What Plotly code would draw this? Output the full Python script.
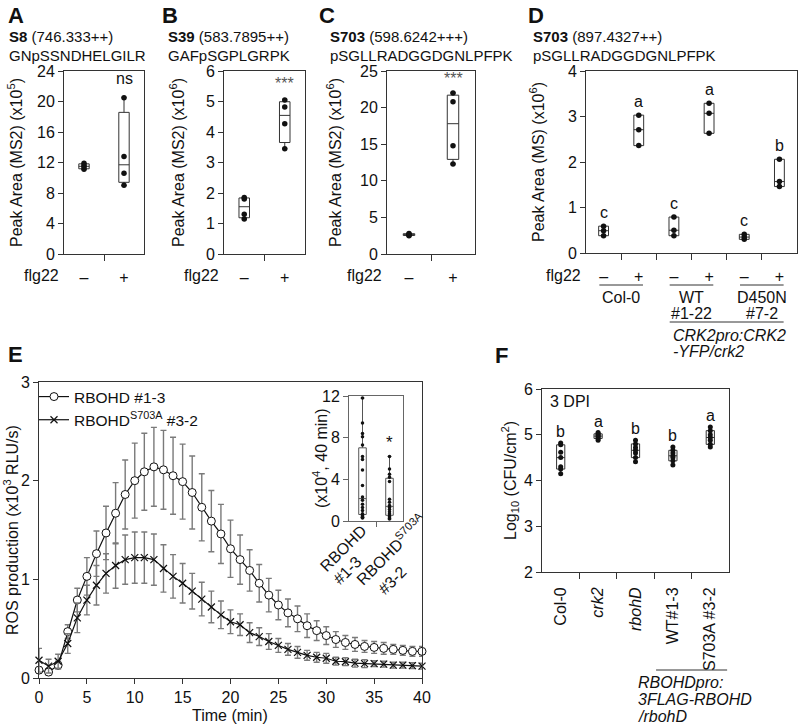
import numpy as np
import plotly.graph_objects as go

# ---------------- DATA ----------------
flg_labels = ["–", "+"]

# Panel A  S8, Peak Area (x10^5)
a_minus = [11.1, 11.4, 11.6, 11.9]
a_plus = [9.0, 10.6, 12.8, 20.5]
# Panel B  S39, Peak Area (x10^6)
b_minus = [1.15, 1.30, 1.80, 1.85]
b_plus = [3.45, 4.27, 4.82, 5.05]
# Panel C  S703, Peak Area (x10^6)
c_minus = [2.5, 2.6, 2.7, 2.8]
c_plus = [12.3, 14.8, 20.8, 22.0]

# Panel D  S703 (897.4327++), Peak Area (MS) (x10^6)
d_flg = ["–", "+", "–", "+", "–", "+"]
d_values = [
    [0.38, 0.49, 0.59],
    [2.36, 2.71, 3.03],
    [0.38, 0.50, 0.79],
    [2.63, 3.07, 3.29],
    [0.30, 0.35, 0.41],
    [1.46, 1.57, 2.06],
]
d_letters = ["c", "a", "c", "a", "c", "b"]

# Panel E  ROS production (x10^3 RLU/s)
time_min = [0, 1, 2, 3, 4, 5, 6, 7, 8, 9, 10, 11, 12, 13, 14, 15, 16, 17, 18, 19, 20,
            21, 22, 23, 24, 25, 26, 27, 28, 29, 30, 31, 32, 33, 34, 35, 36, 37, 38, 39, 40]
wt_mean = [0.08, 0.06, 0.13, 0.47, 0.79, 1.03, 1.26, 1.47, 1.67, 1.86, 2.00, 2.09, 2.14,
           2.11, 2.05, 1.99, 1.88, 1.73, 1.59, 1.46, 1.31, 1.20, 1.09, 0.96, 0.84, 0.74,
           0.66, 0.60, 0.53, 0.48, 0.43, 0.39, 0.36, 0.34, 0.32, 0.31, 0.30, 0.29, 0.28,
           0.27, 0.27]
wt_err = [0.03, 0.03, 0.04, 0.07, 0.12, 0.19, 0.23, 0.27, 0.31, 0.35, 0.38, 0.39, 0.40,
          0.40, 0.39, 0.38, 0.37, 0.34, 0.31, 0.30, 0.29, 0.25, 0.21, 0.19, 0.17, 0.15,
          0.14, 0.13, 0.12, 0.10, 0.09, 0.08, 0.07, 0.07, 0.06, 0.06, 0.06, 0.05, 0.05,
          0.05, 0.05]
sa_mean = [0.18, 0.12, 0.17, 0.35, 0.61, 0.79, 0.94, 1.06, 1.14, 1.20, 1.22, 1.22, 1.20,
           1.11, 1.03, 0.96, 0.88, 0.80, 0.72, 0.64, 0.57, 0.54, 0.46, 0.42, 0.37, 0.33,
           0.29, 0.26, 0.23, 0.21, 0.20, 0.17, 0.165, 0.15, 0.145, 0.145, 0.14, 0.13, 0.13,
           0.125, 0.12]
sa_err = [0.12, 0.07, 0.07, 0.10, 0.15, 0.15, 0.20, 0.20, 0.23, 0.25, 0.26, 0.26, 0.26,
          0.24, 0.22, 0.20, 0.18, 0.17, 0.16, 0.14, 0.12, 0.11, 0.10, 0.09, 0.08, 0.07,
          0.06, 0.06, 0.05, 0.05, 0.05, 0.04, 0.04, 0.04, 0.04, 0.03, 0.03, 0.03, 0.03,
          0.03, 0.03]

# Inset of E (x10^4, 40 min)
inset_line1 = ["RBOHD", "RBOHD<sup>S703A</sup>"]
inset_line2 = ["#1-3", "#3-2"]
inset_wt = [0.3, 0.35, 0.4, 0.5, 0.6, 0.7, 1.0, 1.3, 1.6, 2.0, 2.3, 3.4, 4.9, 5.9, 6.2,
            7.3, 8.1, 8.4, 9.4, 11.8]
inset_sa = [0.2, 0.3, 0.4, 0.5, 0.7, 0.9, 1.1, 1.3, 1.5, 1.8, 2.1, 3.8, 4.2, 4.5, 5.0, 6.2]

# Panel F  Log10 (CFU/cm2), 3 DPI
f_labels = ["Col-0", "<i>crk2</i>", "<i>rbohD</i>", "WT#1-3", "S703A #3-2"]
f_values = [
    [4.15, 4.25, 4.30, 4.50, 4.62, 4.78, 4.82],
    [4.88, 4.92, 4.95, 4.97, 5.00, 5.02, 5.05],
    [4.41, 4.50, 4.60, 4.66, 4.72, 4.80, 4.88],
    [4.34, 4.43, 4.50, 4.54, 4.60, 4.66, 4.73],
    [4.73, 4.79, 4.88, 4.94, 5.00, 5.09, 5.17],
]
f_letters = ["b", "a", "b", "b", "a"]

# ---------------- STYLE ----------------
FONT = "Liberation Sans, Arial, Helvetica, sans-serif"
AX = "#333333"
FS = 16
TS = 15
W, H = 800, 725


def px(x):
    return x / W


def py(y):
    return 1 - y / H


fig = go.Figure()


def box_stats(vals):
    a = np.sort(np.asarray(vals, float))
    q1, med, q3 = np.percentile(a, [25, 50, 75], method="weibull")
    return q1, med, q3, a[0], a[-1]


def add_group(xpos, vals, xa, ya, width, msize=5.5, lc=AX):
    q1, med, q3, lo, hi = box_stats(vals)
    fig.add_trace(go.Box(
        x=[xpos], q1=[q1], median=[med], q3=[q3], lowerfence=[lo], upperfence=[hi],
        width=width, fillcolor="white", line=dict(color=lc, width=1),
        whiskerwidth=0.5, boxpoints=False, xaxis=xa, yaxis=ya,
        showlegend=False, hoverinfo="skip"))
    fig.add_trace(go.Scatter(
        x=[xpos] * len(vals), y=vals, mode="markers",
        marker=dict(size=msize, color="#111111"), xaxis=xa, yaxis=ya,
        showlegend=False, cliponaxis=False, hoverinfo="skip"))


def xax(domain, rng, anchor, **kw):
    d = dict(domain=domain, range=rng, anchor=anchor, showline=True, mirror=True,
             linecolor=AX, linewidth=1, showgrid=False, zeroline=False,
             tickfont=dict(size=FS, color="#111"), ticks="outside", ticklen=5,
             tickcolor=AX, fixedrange=True)
    d.update(kw)
    return d


def yax(domain, rng, anchor, tickvals, **kw):
    d = dict(domain=domain, range=rng, anchor=anchor, showline=True, mirror=True,
             linecolor=AX, linewidth=1, showgrid=False, zeroline=False,
             tickfont=dict(size=FS, color="#111"), ticks="outside", ticklen=5,
             tickcolor=AX, tickvals=tickvals, fixedrange=True)
    d.update(kw)
    return d


ann = []


def text(x, y, s, size=FS, xanchor="center", yanchor="middle", xref="paper",
         yref="paper", color="#111", **kw):
    ann.append(dict(x=x, y=y, text=s, xref=xref, yref=yref, showarrow=False,
                    xanchor=xanchor, yanchor=yanchor,
                    font=dict(size=size, color=color), **kw))


def vtitle(xpix, ycenter, s, size=FS):
    text(px(xpix), py(ycenter), s, size=size, textangle=-90)


# ---------------- PANELS A-C ----------------
top_panels = [
    ("x", "y", (64, 144), a_minus, a_plus, [0, 24], [0, 4, 8, 12, 16, 20, 24],
     "Peak Area (MS2) (x10<sup>5</sup>)", 15, "ns", 1.1, "#111"),
    ("x2", "y2", (224, 305), b_minus, b_plus, [0, 6], [0, 1, 2, 3, 4, 5, 6],
     "Peak Area (MS2) (x10<sup>6</sup>)", 177, "***", 0.2, "#555"),
    ("x3", "y3", (387, 475), c_minus, c_plus, [0, 25], [0, 5, 10, 15, 20, 25],
     "Peak Area (MS2) (x10<sup>6</sup>)", 334, "***", 0.6, "#555"),
]
layout_axes = {}
for i, (xa, ya, (l, r), vm, vp, yr, ytv, ytitle, tx, sig, off, sigc) in enumerate(top_panels):
    add_group(0, vm, xa, ya, 0.26)
    add_group(1, vp, xa, ya, 0.26)
    xname = "xaxis" if i == 0 else f"xaxis{i+1}"
    yname = "yaxis" if i == 0 else f"yaxis{i+1}"
    layout_axes[xname] = xax([px(l), px(r)], [-0.5, 1.5], ya, tickvals=[0, 1],
                             ticktext=flg_labels, ticks="", ticklabelstandoff=9,
                             minor=dict(tickvals=[0.5], ticks="outside", ticklen=6,
                                        tickcolor=AX))
    layout_axes[yname] = yax([py(254), py(71)], yr, xa, ytv)
    vtitle(tx, 163, ytitle)
    text(1, max(vp) + off, sig, xref=xa, yref=ya, color=sigc, yanchor="bottom")
    text(px(l - 3), py(276), "flg22", xanchor="right")

# titles
text(px(6), py(15), "<b>A</b>", size=22, xanchor="left")
text(px(7), py(37), "<b>S8</b> (746.333++)", xanchor="left", size=TS)
text(px(7), py(55), "GNpSSNDHELGILR", xanchor="left", size=TS)
text(px(160), py(15), "<b>B</b>", size=22, xanchor="left")
text(px(166), py(37), "<b>S39</b> (583.7895++)", xanchor="left", size=TS)
text(px(166), py(55), "GAFpSGPLGRPK", xanchor="left", size=TS)
text(px(317), py(15), "<b>C</b>", size=22, xanchor="left")
text(px(328), py(37), "<b>S703</b> (598.6242+++)", xanchor="left", size=TS)
text(px(328), py(55), "pSGLLRADGGDGNLPFPK", xanchor="left", size=TS)
text(px(526), py(15), "<b>D</b>", size=22, xanchor="left")
text(px(531), py(37), "<b>S703</b> (897.4327++)", xanchor="left", size=TS)
text(px(531), py(55), "pSGLLRADGGDGNLPFPK", xanchor="left", size=TS)

# ---------------- PANEL D ----------------
for i, vals in enumerate(d_values):
    add_group(i, vals, "x4", "y4", 0.28)
    text(i, max(vals) + 0.3, d_letters[i], xref="x4", yref="y4")
layout_axes["xaxis4"] = xax([px(586), px(797)], [-0.5, 5.5], "y4",
                            tickvals=list(range(6)), ticktext=d_flg, ticks="",
                            ticklabelstandoff=9,
                            minor=dict(tickvals=[0.5, 1.5, 2.5, 3.5, 4.5], ticks="outside",
                                       ticklen=6, tickcolor=AX))
layout_axes["yaxis4"] = yax([py(253), py(71)], [0, 4], "x4", [0, 1, 2, 3, 4])
vtitle(537, 162, "Peak Area (MS) (x10<sup>6</sup>)")
text(px(583), py(275), "flg22", xanchor="right")
text(0.5, py(297), "Col-0", xref="x4")
text(2.5, py(297), "WT", xref="x4")
text(2.5, py(313), "#1-22", xref="x4")
text(4.5, py(297), "D450N", xref="x4")
text(4.5, py(313), "#7-2", xref="x4")
text(px(671), py(335), "<i>CRK2pro:CRK2</i>", xanchor="left")
text(px(671), py(351), "<i>-YFP/crk2</i>", xanchor="left")
shapes = []
for c in (0, 2, 4):
    shapes.append(dict(type="line", xref="x4", yref="paper", x0=c - 0.12, x1=c + 1.12,
                       y0=py(285), y1=py(285), line=dict(color=AX, width=1)))
shapes.append(dict(type="line", xref="x4", yref="paper", x0=1.88, x1=5.12,
                   y0=py(322), y1=py(322), line=dict(color=AX, width=1)))

# ---------------- PANEL E ----------------
fig.add_trace(go.Scatter(
    x=time_min, y=wt_mean, name="RBOHD #1-3", mode="lines+markers",
    line=dict(color="#111", width=1.2),
    marker=dict(symbol="circle", size=8, color="white", line=dict(color="#111", width=1)),
    error_y=dict(type="data", array=wt_err, color="#7a7a7a", thickness=1.4, width=3),
    xaxis="x5", yaxis="y5", cliponaxis=False))
fig.add_trace(go.Scatter(
    x=time_min, y=sa_mean, name="RBOHD<sup>S703A</sup> #3-2", mode="lines+markers",
    line=dict(color="#111", width=1.2),
    marker=dict(symbol="x-thin", size=7, color="#111", line=dict(color="#111", width=1.2)),
    error_y=dict(type="data", array=sa_err, color="#7a7a7a", thickness=1.4, width=3),
    xaxis="x5", yaxis="y5", cliponaxis=False))
layout_axes["xaxis5"] = xax([px(39), px(422)], [0, 40], "y5",
                            tickvals=[0, 5, 10, 15, 20, 25, 30, 35, 40])
layout_axes["yaxis5"] = yax([py(678), py(382)], [0, 3], "x5", [0, 1, 2, 3])
vtitle(11, 530, "ROS production (x10<sup>3</sup> RLU/s)")
text(px(230), py(715), "Time (min)")
text(px(6), py(354), "<b>E</b>", size=22, xanchor="left")

# inset
add_group(0, inset_wt, "x6", "y6", 0.28, msize=3.5, lc="#555")
add_group(1, inset_sa, "x6", "y6", 0.28, msize=3.5, lc="#555")
text(1, max(inset_sa) + 0.2, "*", xref="x6", yref="y6", yanchor="bottom", size=17)
layout_axes["xaxis6"] = xax([px(349), px(403)], [-0.5, 1.5], "y6", tickvals=[0, 1],
                            ticktext=["", ""], ticks="", linecolor="#666",
                            minor=dict(tickvals=[0.5], ticks="outside", ticklen=5,
                                       tickcolor="#666"))
layout_axes["yaxis6"] = yax([py(521), py(396)], [0, 12], "x6", [0, 4, 8, 12],
                            linecolor="#666", tickcolor="#666")
vtitle(320, 458, "(x10<sup>4</sup>, 40 min)")
text(px(343), py(548), inset_line1[0], textangle=-45)
text(px(347), py(570), inset_line2[0], textangle=-45)
text(px(391), py(549), inset_line1[1], textangle=-45)
text(px(392), py(580), inset_line2[1], textangle=-45)

# ---------------- PANEL F ----------------
for i, vals in enumerate(f_values):
    add_group(i, vals, "x7", "y7", 0.22, msize=5)
    text(i, max(vals) + 0.25, f_letters[i], xref="x7", yref="y7")
layout_axes["xaxis7"] = xax([px(542), px(729)], [-0.5, 4.5], "y7",
                            tickvals=list(range(5)), ticktext=f_labels, ticks="",
                            tickangle=-90, ticklabelstandoff=8,
                            minor=dict(tickvals=[0.5, 1.5, 2.5, 3.5], ticks="outside",
                                       ticklen=6, tickcolor=AX))
layout_axes["yaxis7"] = yax([py(572), py(389)], [2, 6], "x7", [2, 3, 4, 5, 6])
vtitle(510, 480, "Log<sub>10</sub> (CFU/cm<sup>2</sup>)")
text(px(548), py(401), "3 DPI", xanchor="left")
text(px(501), py(355), "<b>F</b>", size=22)
shapes.append(dict(type="line", xref="x7", yref="paper", x0=2.55, x1=4.45,
                   y0=py(670), y1=py(670), line=dict(color=AX, width=1)))
text(px(636), py(682), "<i>RBOHDpro:</i>", xanchor="left")
text(px(636), py(699), "<i>3FLAG-RBOHD</i>", xanchor="left")
text(px(636), py(716), "<i>/rbohD</i>", xanchor="left")

fig.update_layout(
    width=W, height=H, margin=dict(l=0, r=0, t=0, b=0, autoexpand=False),
    paper_bgcolor="white", plot_bgcolor="white",
    font=dict(family=FONT, size=FS, color="#111"),
    showlegend=True,
    legend=dict(x=px(34), y=py(380), xanchor="left", yanchor="top",
                bgcolor="rgba(0,0,0,0)", font=dict(size=15.5), tracegroupgap=0,
                itemwidth=30),
    annotations=ann, shapes=shapes,
    **layout_axes,
)

fig.write_html(
    "out.html",
    config={"displayModeBar": False},
    post_script="document.body.style.margin='0';document.body.style.overflow='hidden';",
)
